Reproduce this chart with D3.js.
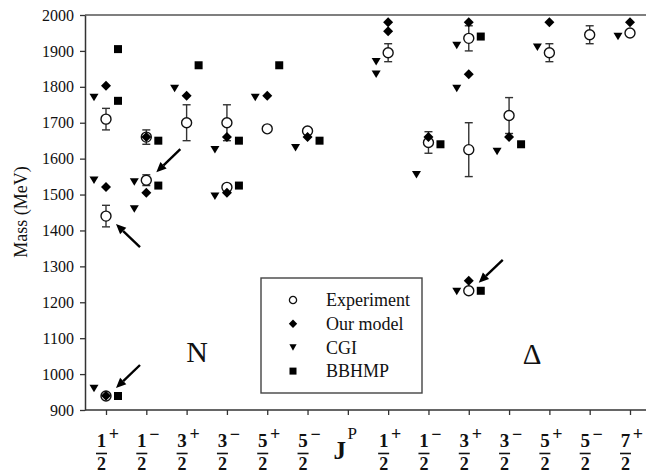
<!DOCTYPE html>
<html>
<head>
<meta charset="utf-8">
<script src="https://cdn.jsdelivr.net/npm/d3@7"></script>
<style>
body { margin: 0; background: #fff; }
svg { display: block; font-family: 'Liberation Serif', 'Times New Roman', serif; }
</style>
</head>
<body>
<svg id="chart" width="646" height="474"></svg>
<script>
// x categories: N states, then the J^P label slot, then Delta states
const numerators = ['1', '1', '3', '3', '5', '5', null, '1', '1', '3', '3', '5', '5', '7']
const parities = ['+', '\u2212', '+', '\u2212', '+', '\u2212', null, '+', '\u2212', '+', '\u2212', '+', '\u2212', '+']
const yTicks = [900, 1000, 1100, 1200, 1300, 1400, 1500, 1600, 1700, 1800, 1900, 2000]

// [category index, mass MeV, error MeV]
const experiment = [
  [0, 939, 0], [0, 1440, 30], [0, 1710, 30],
  [1, 1540, 15], [1, 1660, 20],
  [2, 1700, 50],
  [3, 1520, 5], [3, 1700, 50],
  [4, 1683, 5],
  [5, 1677, 5],
  [7, 1895, 25],
  [8, 1645, 30],
  [9, 1232, 0], [9, 1625, 75], [9, 1935, 35],
  [10, 1720, 50],
  [11, 1895, 25],
  [12, 1945, 25],
  [13, 1950, 5]
]
// [category index, mass MeV]
const ourModel = [
  [0, 940], [0, 1521], [0, 1803],
  [1, 1505], [1, 1660],
  [2, 1775],
  [3, 1505], [3, 1660],
  [4, 1775],
  [5, 1660],
  [7, 1955], [7, 1980],
  [8, 1660],
  [9, 1260], [9, 1835], [9, 1980],
  [10, 1660],
  [11, 1980],
  [13, 1980]
]
const cgi = [
  [0, 960], [0, 1540], [0, 1770],
  [1, 1460], [1, 1535],
  [2, 1795],
  [3, 1495], [3, 1625],
  [4, 1770],
  [5, 1630],
  [7, 1835], [7, 1870],
  [8, 1555],
  [9, 1230], [9, 1795], [9, 1915],
  [10, 1620],
  [11, 1910],
  [13, 1940]
]
const bbhmp = [
  [0, 939], [0, 1761], [0, 1905],
  [1, 1525], [1, 1650],
  [2, 1860],
  [3, 1525], [3, 1650],
  [4, 1860],
  [5, 1650],
  [8, 1640],
  [9, 1232], [9, 1940],
  [10, 1640]
]
// arrows pointing at experimental states: [category index, mass, tail direction]
const arrows = [[1, 1540, 'up'], [0, 1440, 'down'], [0, 939, 'up'], [9, 1232, 'up']]
const legendNames = ['Experiment', 'Our model', 'CGI', 'BBHMP']

const svg = d3.select('#chart')
const plotLeft = 85
const plotRight = 646
const plotTop = 15
const plotBottom = 410
const ink = '#333'

const x = d3.scaleLinear().domain([0, 13]).range([106, 630])
const y = d3.scaleLinear().domain([900, 2000]).range([plotBottom, plotTop])

// frame lines (no right side)
svg.append('line')
  .attr('x1', plotLeft).attr('x2', plotRight).attr('y1', plotTop).attr('y2', plotTop)
  .attr('stroke', '#555').attr('stroke-width', 1.5)
svg.append('line')
  .attr('x1', plotLeft).attr('x2', plotRight).attr('y1', plotBottom).attr('y2', plotBottom)
  .attr('stroke', ink).attr('stroke-width', 1.5)

// y axis
const yAxis = svg.append('g')
  .attr('transform', `translate(${plotLeft},0)`)
  .call(d3.axisLeft(y).tickValues(yTicks).tickSize(5).tickSizeOuter(0).tickPadding(6).tickFormat(d3.format('d')))
yAxis.select('.domain').attr('stroke', ink).attr('stroke-width', 1.5)
yAxis.selectAll('.tick line').attr('stroke', ink).attr('stroke-width', 1.3)
yAxis.selectAll('.tick text')
  .attr('font-family', "'Liberation Serif', 'Times New Roman', serif")
  .attr('font-size', 16)
  .attr('fill', '#111')

svg.append('text')
  .attr('transform', 'translate(27,212) rotate(-90)')
  .attr('text-anchor', 'middle')
  .attr('font-size', 18)
  .attr('fill', '#111')
  .text('Mass (MeV)')

// x axis ticks
const xAxis = svg.append('g')
  .attr('transform', `translate(0,${plotBottom})`)
  .call(d3.axisBottom(x).tickValues(d3.range(14)).tickSize(5).tickSizeOuter(0).tickFormat(''))
xAxis.select('.domain').remove()
xAxis.selectAll('.tick line').attr('stroke', ink).attr('stroke-width', 1.3)

// fraction tick labels
const labels = svg.append('g').attr('fill', '#111').attr('font-weight', 'bold')
numerators.forEach((num, i) => {
  const cx = x(i)
  if (num === null) {
    labels.append('text').attr('x', cx - 8).attr('y', 459).attr('text-anchor', 'middle')
      .attr('font-size', 25).text('J')
    labels.append('text').attr('x', cx + 4.5).attr('y', 439).attr('text-anchor', 'middle')
      .attr('font-size', 17).attr('font-weight', 'normal').text('P')
    return
  }
  labels.append('text').attr('x', cx - 4.5).attr('y', 447).attr('text-anchor', 'middle')
    .attr('font-size', 19).text(num)
  labels.append('text').attr('x', cx + 8).attr('y', 440).attr('text-anchor', 'middle')
    .attr('font-size', 18).text(parities[i])
  labels.append('line')
    .attr('x1', cx - 10).attr('x2', cx + 1).attr('y1', 453.5).attr('y2', 453.5)
    .attr('stroke', '#111').attr('stroke-width', 1.6)
  labels.append('text').attr('x', cx - 4.5).attr('y', 469.5).attr('text-anchor', 'middle')
    .attr('font-size', 18).text('2')
})

// marker shapes
const diamondPath = s => `M0,${-s}L${s},0L0,${s}L${-s},0Z`
const trianglePath = (w, h) => `M${-w},${-h / 2}L${w},${-h / 2}L0,${h / 2}Z`

const marks = svg.append('g')

// experiment error bars
const bars = marks.append('g').attr('stroke', ink).attr('stroke-width', 1.4)
experiment.filter(d => d[2] > 6).forEach(d => {
  const cx = x(d[0])
  const y1 = y(d[1] - d[2])
  const y2 = y(d[1] + d[2])
  bars.append('line').attr('x1', cx).attr('x2', cx).attr('y1', y1).attr('y2', y2)
  bars.append('line').attr('x1', cx - 4).attr('x2', cx + 4).attr('y1', y1).attr('y2', y1)
  bars.append('line').attr('x1', cx - 4).attr('x2', cx + 4).attr('y1', y2).attr('y2', y2)
})

marks.append('g').selectAll('circle')
  .data(experiment)
  .enter()
  .append('circle')
  .attr('cx', d => x(d[0]))
  .attr('cy', d => y(d[1]))
  .attr('r', 5)
  .attr('fill', '#fff')
  .attr('stroke', '#111')
  .attr('stroke-width', 1.4)

marks.append('g').selectAll('path')
  .data(cgi)
  .enter()
  .append('path')
  .attr('d', trianglePath(4.5, 7.5))
  .attr('transform', d => `translate(${x(d[0]) - 12},${y(d[1])})`)
  .attr('fill', '#000')

marks.append('g').selectAll('rect')
  .data(bbhmp)
  .enter()
  .append('rect')
  .attr('x', d => x(d[0]) + 12 - 4)
  .attr('y', d => y(d[1]) - 4)
  .attr('width', 8)
  .attr('height', 8)
  .attr('fill', '#000')

marks.append('g').selectAll('path')
  .data(ourModel)
  .enter()
  .append('path')
  .attr('d', diamondPath(5))
  .attr('transform', d => `translate(${x(d[0])},${y(d[1])})`)
  .attr('fill', '#000')

// arrows
const arrowG = svg.append('g')
arrows.forEach(a => {
  const px = x(a[0])
  const py = y(a[1])
  const sgn = a[2] === 'up' ? -1 : 1
  const tx = px + 10
  const ty = py + sgn * 8
  const sx = px + 34
  const sy = py + sgn * 31
  const len = Math.hypot(sx - tx, sy - ty)
  const ux = (sx - tx) / len
  const uy = (sy - ty) / len
  const hl = 10
  const hw = 4.5
  const bx = tx + ux * hl
  const by = ty + uy * hl
  arrowG.append('line')
    .attr('x1', sx).attr('y1', sy).attr('x2', bx).attr('y2', by)
    .attr('stroke', '#000').attr('stroke-width', 2.4)
  arrowG.append('path')
    .attr('d', `M${tx},${ty}L${bx - uy * hw},${by + ux * hw}L${bx + uy * hw},${by - ux * hw}Z`)
    .attr('fill', '#000')
})

// sector labels
svg.append('text').attr('x', 197).attr('y', 362).attr('text-anchor', 'middle')
  .attr('font-size', 30).attr('fill', '#111').text('N')
svg.append('text').attr('x', 532).attr('y', 364).attr('text-anchor', 'middle')
  .attr('font-size', 29).attr('fill', '#111').text('\u0394')

// legend
const legend = svg.append('g')
legend.append('rect')
  .attr('x', 261).attr('y', 278).attr('width', 161).attr('height', 115)
  .attr('fill', '#fff').attr('stroke', '#444').attr('stroke-width', 1.4)
legendNames.forEach((name, i) => {
  const ly = 300 + i * 23.7
  const g = legend.append('g').attr('transform', `translate(293,${ly})`)
  if (i === 0) g.append('circle').attr('r', 3.6).attr('fill', '#fff').attr('stroke', '#111').attr('stroke-width', 1.3)
  if (i === 1) g.append('path').attr('d', diamondPath(4.2)).attr('fill', '#000')
  if (i === 2) g.append('path').attr('d', trianglePath(3.6, 6.5)).attr('fill', '#000')
  if (i === 3) g.append('rect').attr('x', -3.5).attr('y', -3.5).attr('width', 7).attr('height', 7).attr('fill', '#000')
  legend.append('text')
    .attr('x', 326).attr('y', ly).attr('dy', '0.35em')
    .attr('font-size', 18).attr('fill', '#111')
    .text(name)
})
</script>
</body>
</html>
